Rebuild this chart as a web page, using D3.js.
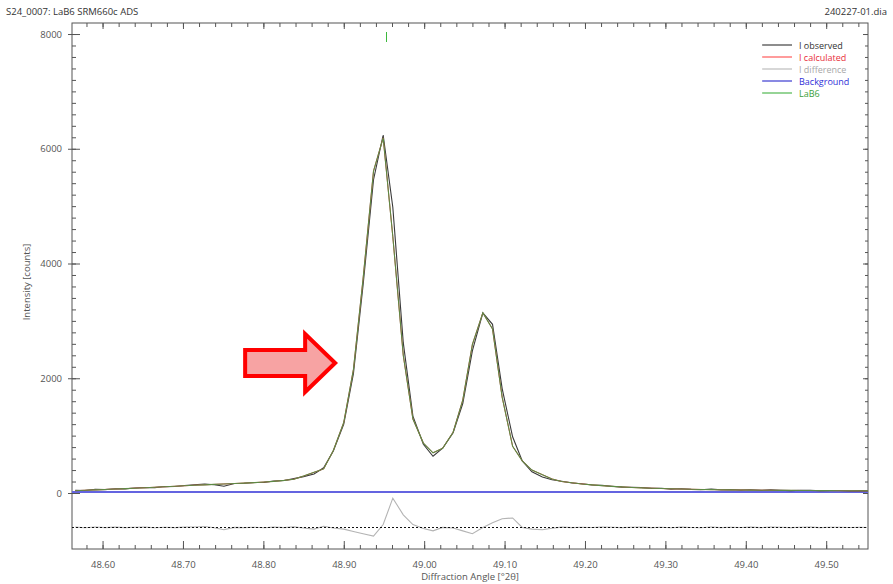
<!DOCTYPE html>
<html lang="en">
<head>
<meta charset="UTF-8">
<script src="https://d3js.org/d3.v7.min.js"></script>
<style>
  body { margin: 0; background: #fff; }
  svg text { font-family: "Open Sans", sans-serif; }
</style>
<title>LaB6 SRM660c</title>
</head>
<body>
<div id="chart"></div>
<script>
// measured points, 2theta in degrees
const angles = [48.566, 48.578, 48.591, 48.603, 48.616, 48.628, 48.640, 48.653, 48.665, 48.677,
  48.690, 48.702, 48.714, 48.727, 48.739, 48.751, 48.764, 48.776, 48.789, 48.801,
  48.813, 48.826, 48.838, 48.850, 48.863, 48.875, 48.887, 48.900, 48.912, 48.924,
  48.937, 48.949, 48.961, 48.974, 48.986, 48.999, 49.011, 49.023, 49.036, 49.048,
  49.060, 49.073, 49.085, 49.097, 49.110, 49.122, 49.134, 49.147, 49.159, 49.171,
  49.184, 49.196, 49.209, 49.221, 49.233, 49.246, 49.258, 49.270, 49.283, 49.295,
  49.307, 49.320, 49.332, 49.344, 49.357, 49.369, 49.381, 49.394, 49.406, 49.419,
  49.431, 49.443, 49.456, 49.468, 49.480, 49.493, 49.505, 49.517, 49.530, 49.542, 49.554];

const observed = [45, 43, 63, 59, 75, 72, 86, 97, 94, 112,
  114, 132, 144, 157, 145, 118, 166, 169, 184, 185,
  208, 217, 250, 285, 330, 440, 730, 1200, 2080, 3620,
  5460, 6240, 4980, 2620, 1340, 850, 640, 780, 1050, 1560,
  2480, 3140, 2940, 1820, 980, 560, 370, 280, 230, 205,
  175, 162, 140, 134, 119, 102, 99, 95, 81, 82,
  68, 75, 63, 56, 67, 54, 59, 51, 56, 46,
  54, 48, 41, 47, 48, 39, 43, 44, 37, 41, 36];

const calculated = [40, 48, 55, 62, 69, 76, 84, 92, 100, 108,
  117, 126, 136, 142, 150, 158, 165, 173, 181, 191,
  203, 220, 240, 295, 360, 420, 740, 1230, 2150, 3730,
  5610, 6190, 4470, 2400, 1290, 870, 700, 780, 1060, 1620,
  2590, 3140, 2860, 1670, 815, 560, 400, 320, 245, 200,
  178, 158, 142, 128, 116, 106, 97, 90, 84, 78,
  73, 69, 65, 62, 59, 57, 55, 53, 51, 49,
  48, 46, 45, 44, 43, 42, 41, 40, 39, 38, 37];

const difference = [5, -5, 8, -3, 6, -4, 2, 5, -6, 4,
  -3, 6, 8, 15, -5, -40, 1, -4, 3, -6,
  5, -3, 10, -10, -30, 20, -10, -30, -70, -110,
  -150, 50, 510, 220, 50, -20, -60, 0, -10, -60,
  -110, 0, 80, 150, 165, 0, -30, -40, -15, 5,
  -3, 4, -2, 6, 3, -4, 2, 5, -3, 4,
  -5, 6, -2, -6, 8, -3, 4, -2, 5, -3,
  6, 2, -4, 3, 5, -3, 2, 4, -2, 3, -1];

const diffOffset = -600;
const bgAngles = [48.562, 49.552];
const bgValues = [16, 16];
const reflections = [48.952];
const arrowTip = [48.893, 2265];

const xTicks = [48.6, 48.7, 48.8, 48.9, 49.0, 49.1, 49.2, 49.3, 49.4, 49.5];
const yTicks = [0, 2000, 4000, 6000, 8000];

const legendItems = [
  {name: "I observed", color: "#404040", text: "#333"},
  {name: "I calculated", color: "#ff5a5a", text: "#e8303a"},
  {name: "I difference", color: "#bdbdbd", text: "#a8a8a8"},
  {name: "Background", color: "#3a3ad0", text: "#2f2fd8"},
  {name: "LaB6", color: "#4fb84f", text: "#3aa03a"}
];

const W = 893, H = 584;
const margin = {top: 23, right: 25, bottom: 35, left: 72};

const svg = d3.select("#chart").append("svg")
  .attr("width", W).attr("height", H);

const x = d3.scaleLinear().domain([48.562, 49.552]).range([margin.left, W - margin.right]);
const y = d3.scaleLinear().domain([-976, 8192]).range([H - margin.bottom, margin.top]);

const minorX = d3.range(48.58, 49.56, 0.02).filter(v => x(v) > margin.left && x(v) < W - margin.right);
const minorY = d3.range(0, 8200, 200);

svg.append("clipPath").attr("id", "clip").append("rect")
  .attr("x", margin.left).attr("y", margin.top)
  .attr("width", W - margin.left - margin.right)
  .attr("height", H - margin.top - margin.bottom);

const axisColor = "#555";
function styleAxis(g) {
  g.select(".domain").remove();
  g.selectAll(".tick line").attr("stroke", axisColor);
  g.selectAll(".tick text").attr("fill", "#555").style("font-size", "9.5px");
}

// bottom axis
svg.append("g").attr("transform", `translate(0,${H - margin.bottom})`)
  .call(d3.axisBottom(x).tickValues(minorX).tickSize(-4).tickFormat(""))
  .call(styleAxis);
svg.append("g").attr("transform", `translate(0,${H - margin.bottom})`)
  .call(d3.axisBottom(x).tickValues(xTicks).tickSize(-8).tickPadding(12).tickFormat(d3.format(".2f")))
  .call(styleAxis);

// top axis
svg.append("g").attr("transform", `translate(0,${margin.top})`)
  .call(d3.axisTop(x).tickValues(minorX).tickSize(-4).tickFormat(""))
  .call(styleAxis);
svg.append("g").attr("transform", `translate(0,${margin.top})`)
  .call(d3.axisTop(x).tickValues(xTicks).tickSize(-6).tickFormat(""))
  .call(styleAxis);

// left axis
svg.append("g").attr("transform", `translate(${margin.left},0)`)
  .call(d3.axisLeft(y).tickValues(minorY).tickSize(-4).tickFormat(""))
  .call(styleAxis);
svg.append("g").attr("transform", `translate(${margin.left},0)`)
  .call(d3.axisLeft(y).tickValues(yTicks).tickSize(-8).tickPadding(10).tickFormat(d3.format("d")))
  .call(styleAxis)
  .call(g => g.selectAll(".tick line").attr("x1", -4));

// right axis
svg.append("g").attr("transform", `translate(${W - margin.right},0)`)
  .call(d3.axisRight(y).tickValues(minorY).tickSize(-3).tickFormat(""))
  .call(styleAxis);
svg.append("g").attr("transform", `translate(${W - margin.right},0)`)
  .call(d3.axisRight(y).tickValues(yTicks).tickSize(-5).tickFormat(""))
  .call(styleAxis);

// frame
svg.append("rect")
  .attr("x", margin.left).attr("y", margin.top)
  .attr("width", W - margin.left - margin.right)
  .attr("height", H - margin.top - margin.bottom)
  .attr("fill", "none").attr("stroke", axisColor).attr("stroke-width", 1);

const plot = svg.append("g").attr("clip-path", "url(#clip)");
const idx = d3.range(angles.length);

// difference curve, then its zero line on top
plot.append("path")
  .attr("d", d3.line().x(i => x(angles[i])).y(i => y(diffOffset + difference[i]))(idx))
  .attr("fill", "none").attr("stroke", "#b4b4b4").attr("stroke-width", 1.1);
plot.append("line")
  .attr("x1", margin.left).attr("x2", W - margin.right)
  .attr("y1", Math.round(y(diffOffset)) + 0.5).attr("y2", Math.round(y(diffOffset)) + 0.5)
  .attr("stroke", "#111").attr("stroke-dasharray", "2,2").attr("stroke-width", 1);

// background
plot.append("path")
  .attr("d", d3.line().x(i => x(bgAngles[i])).y(i => y(bgValues[i]))(d3.range(bgAngles.length)))
  .attr("fill", "none").attr("stroke", "#6464e0").attr("stroke-width", 2);

// observed, calculated, phase
plot.append("path")
  .attr("d", d3.line().x(i => x(angles[i])).y(i => y(observed[i]))(idx))
  .attr("fill", "none").attr("stroke", "#3a3a3a").attr("stroke-width", 1.1);
plot.append("path")
  .attr("d", d3.line().x(i => x(angles[i])).y(i => y(calculated[i]))(idx))
  .attr("fill", "none").attr("stroke", "#e05050").attr("stroke-width", 1);
plot.append("path")
  .attr("d", d3.line().x(i => x(angles[i])).y(i => y(calculated[i]))(idx))
  .attr("fill", "none").attr("stroke", "#5d8a45").attr("stroke-width", 1.1);

// reflection markers
svg.selectAll(".refl").data(reflections).enter().append("line")
  .attr("x1", d => Math.round(x(d)) + 0.5).attr("x2", d => Math.round(x(d)) + 0.5)
  .attr("y1", margin.top + 9).attr("y2", margin.top + 19)
  .attr("stroke", "#3cb83c").attr("stroke-width", 1);

// legend
const leg = svg.append("g").attr("transform", "translate(762,45)");
legendItems.forEach((d, i) => {
  leg.append("line").attr("x1", 0).attr("x2", 30).attr("y1", i * 12).attr("y2", i * 12)
    .attr("stroke", d.color).attr("stroke-width", 1.2);
  leg.append("text").attr("x", 37).attr("y", i * 12 + 3.5)
    .attr("fill", d.text).style("font-size", "9px").text(d.name);
});

// header texts
svg.append("text").attr("x", 6).attr("y", 15).attr("fill", "#333")
  .style("font-size", "9.5px").text("S24_0007: LaB6 SRM660c ADS");
svg.append("text").attr("x", 887).attr("y", 15).attr("fill", "#333")
  .attr("text-anchor", "end").style("font-size", "9.5px").text("240227-01.dia");

// axis titles
svg.append("text").attr("x", 470).attr("y", 580).attr("fill", "#555")
  .attr("text-anchor", "middle").style("font-size", "9.5px").text("Diffraction Angle [°2θ]");
svg.append("text").attr("transform", "translate(30,282) rotate(-90)").attr("fill", "#555")
  .attr("text-anchor", "middle").style("font-size", "9.5px").text("Intensity [counts]");

// red arrow annotation
const tx = x(arrowTip[0]), ty = y(arrowTip[1]);
const arrowPts = [[-93, -13], [-33, -13], [-33, -29], [-3, 0], [-33, 29], [-33, 13], [-93, 13]];
svg.append("path")
  .attr("d", d3.line()(arrowPts.map(p => [tx + p[0], ty + p[1]])) + "Z")
  .attr("fill", "#f7a3a3").attr("stroke", "#ff0000").attr("stroke-width", 4)
  .attr("stroke-linejoin", "miter");
</script>
</body>
</html>
